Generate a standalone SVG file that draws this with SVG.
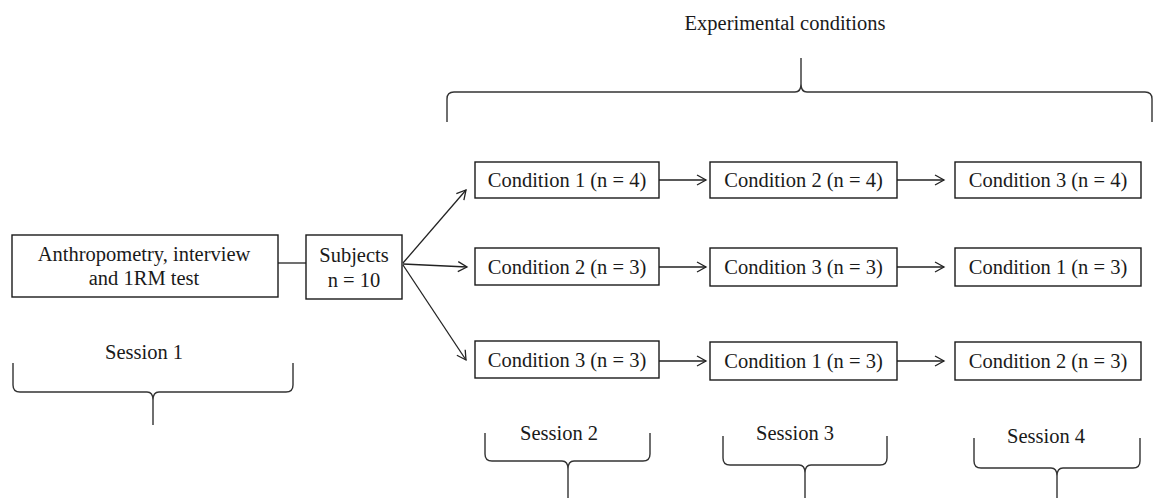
<svg xmlns="http://www.w3.org/2000/svg" width="1154" height="498" viewBox="0 0 1154 498">
<defs>
<marker id="arr" markerUnits="userSpaceOnUse" markerWidth="14" markerHeight="14" refX="10" refY="6" orient="auto">
<path d="M1,1 L10,6 L1,11" fill="none" stroke="#222" stroke-width="1.3"/>
</marker>
<style>
text{font-family:"Liberation Serif","Times New Roman",serif;font-size:20.5px;fill:#1a1a1a;text-anchor:middle}
.box{fill:#fff;stroke:#1a1a1a;stroke-width:1.4}
.con{fill:none;stroke:#222;stroke-width:1.3}
.brace{fill:none;stroke:#333;stroke-width:1.4}
</style>
</defs>
<rect width="1154" height="498" fill="#fff"/>

<g id="connectors">
<line class="con" x1="278" y1="263" x2="306" y2="263"/>
<line class="con" x1="403" y1="263" x2="466" y2="190" marker-end="url(#arr)"/>
<line class="con" x1="403" y1="264" x2="467" y2="267" marker-end="url(#arr)"/>
<line class="con" x1="403" y1="265" x2="466" y2="360" marker-end="url(#arr)"/>
<line class="con" x1="659" y1="180" x2="706" y2="180" marker-end="url(#arr)"/>
<line class="con" x1="659" y1="267" x2="706" y2="267" marker-end="url(#arr)"/>
<line class="con" x1="659" y1="361" x2="706" y2="361" marker-end="url(#arr)"/>
<line class="con" x1="897" y1="180" x2="944" y2="180" marker-end="url(#arr)"/>
<line class="con" x1="897" y1="267" x2="944" y2="267" marker-end="url(#arr)"/>
<line class="con" x1="897" y1="361" x2="944" y2="361" marker-end="url(#arr)"/>
</g>

<g id="n_anthro">
<rect class="box" x="12" y="235" width="266" height="62"/>
<text x="144" y="261">Anthropometry, interview</text>
<text x="144" y="285">and 1RM test</text>
</g>
<g id="n_subjects">
<rect class="box" x="306" y="235" width="96" height="64"/>
<text x="354" y="262">Subjects</text>
<text x="354" y="287">n = 10</text>
</g>

<g id="n_r1c1"><rect class="box" x="475" y="162" width="184" height="36"/><text x="567" y="187">Condition 1 (n = 4)</text></g>
<g id="n_r1c2"><rect class="box" x="710" y="162" width="187" height="36"/><text x="803.5" y="187">Condition 2 (n = 4)</text></g>
<g id="n_r1c3"><rect class="box" x="955" y="162" width="186" height="36"/><text x="1048" y="187">Condition 3 (n = 4)</text></g>

<g id="n_r2c1"><rect class="box" x="475" y="248" width="184" height="37"/><text x="567" y="274">Condition 2 (n = 3)</text></g>
<g id="n_r2c2"><rect class="box" x="710" y="248" width="187" height="38"/><text x="803.5" y="274">Condition 3 (n = 3)</text></g>
<g id="n_r2c3"><rect class="box" x="955" y="248" width="186" height="38"/><text x="1048" y="274">Condition 1 (n = 3)</text></g>

<g id="n_r3c1"><rect class="box" x="475" y="341" width="184" height="37"/><text x="567" y="367">Condition 3 (n = 3)</text></g>
<g id="n_r3c2"><rect class="box" x="710" y="342" width="187" height="38"/><text x="803.5" y="368">Condition 1 (n = 3)</text></g>
<g id="n_r3c3"><rect class="box" x="955" y="342" width="186" height="38"/><text x="1048" y="368">Condition 2 (n = 3)</text></g>

<g id="top_brace">
<text x="785" y="30">Experimental conditions</text>
<path class="brace" d="M447,122 L447,99 Q447,92 454,92 L795,92 Q801,92 801,84 L801,58 M1152,122 L1152,99 Q1152,92 1145,92 L807,92 Q801,92 801,84"/>
</g>

<g id="session1">
<text x="144" y="359">Session 1</text>
<path class="brace" d="M13,363 L13,385 Q13,392 20,392 L147,392 Q153,392 153,400 L153,425 M293,363 L293,385 Q293,392 286,392 L159,392 Q153,392 153,400"/>
</g>
<g id="session2">
<text x="559" y="440">Session 2</text>
<path class="brace" d="M485,433 L485,454 Q485,461 492,461 L562,461 Q568,461 568,469 L568,498 M650,433 L650,454 Q650,461 643,461 L574,461 Q568,461 568,469"/>
</g>
<g id="session3">
<text x="795" y="440">Session 3</text>
<path class="brace" d="M723,436 L723,458 Q723,465 730,465 L799,465 Q805,465 805,473 L805,498 M887,436 L887,458 Q887,465 880,465 L811,465 Q805,465 805,473"/>
</g>
<g id="session4">
<text x="1046" y="443">Session 4</text>
<path class="brace" d="M974,438 L974,461 Q974,468 981,468 L1051,468 Q1057,468 1057,476 L1057,498 M1140,438 L1140,461 Q1140,468 1133,468 L1063,468 Q1057,468 1057,476"/>
</g>
</svg>
